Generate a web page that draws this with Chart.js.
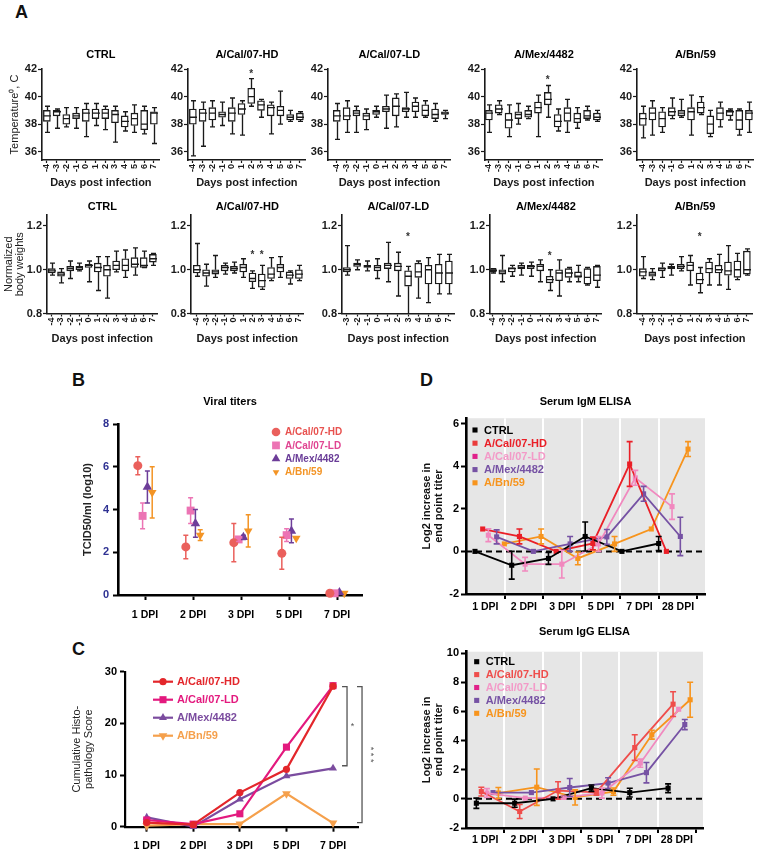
<!DOCTYPE html>
<html><head><meta charset="utf-8">
<script src="https://cdn.jsdelivr.net/npm/chart.js@4.4.1/dist/chart.umd.min.js"></script>
<style>
html,body{margin:0;padding:0;background:#fff;}
body{width:764px;height:853px;position:relative;overflow:hidden;font-family:"Liberation Sans",Arial,sans-serif;}
.plabel{position:absolute;font:bold 18px/18px "Liberation Sans",Arial,sans-serif;color:#111;}
canvas{position:absolute;}
</style></head><body>
<div class="plabel" style="left:15px;top:3px">A</div>
<div class="plabel" style="left:72px;top:371px">B</div>
<div class="plabel" style="left:72px;top:640px">C</div>
<div class="plabel" style="left:420px;top:371px">D</div>
<script>
// ================= DATA =================
// Panel A — box plots [min, Q1, median, Q3, max]
const GROUPS = ['CTRL', 'A/Cal/07-HD', 'A/Cal/07-LD', 'A/Mex/4482', 'A/Bn/59'];
const DAYS = ['-4','-3','-2','-1','0','1','2','3','4','5','6','7'];
const DAYS_FROM_M3 = ['-3','-2','-1','0','1','2','3','4','5','6','7'];

const TEMP_CTRL = [[37.4,38.2,38.6,39.0,39.3],[37.7,38.6,38.9,39.0,39.1],[37.8,38.0,38.4,38.7,39.2],[37.7,38.4,38.6,38.8,39.2],[37.1,38.2,38.8,39.1,39.5],[37.9,38.4,38.8,39.1,39.5],[37.6,38.4,38.8,39.1,39.3],[36.7,38.1,38.7,39.0,39.3],[37.5,37.8,38.2,38.6,38.9],[37.4,37.9,38.4,38.8,39.4],[37.3,37.6,38.0,39.0,39.3],[36.6,38.0,38.8,38.9,39.2]];
const TEMP_HD = [[35.7,38.0,38.5,39.1,39.7],[36.4,38.2,38.8,39.1,39.6],[37.8,38.3,38.8,39.2,39.7],[37.9,38.5,38.7,38.9,39.6],[37.3,38.2,38.8,39.2,39.9],[37.2,38.7,39.1,39.5,39.7],[39.3,39.5,40.0,40.6,41.3],[38.5,39.0,39.4,39.7,39.8],[37.3,38.6,39.2,39.4,39.6],[38.0,38.6,39.0,39.3,40.4],[38.2,38.3,38.5,38.7,39.0],[38.2,38.3,38.5,38.8,38.9]];
const TEMP_LD = [[36.9,38.2,38.6,39.0,39.5],[37.4,38.3,38.6,39.2,39.7],[37.4,38.6,38.8,39.0,39.3],[37.6,38.3,38.6,38.8,39.1],[38.5,38.7,38.9,39.0,39.3],[37.7,38.9,39.1,39.3,40.1],[37.8,38.6,39.3,39.9,40.2],[38.5,38.9,39.1,39.2,40.3],[38.5,38.9,39.3,39.6,39.9],[38.5,38.6,39.0,39.4,39.7],[38.2,38.4,38.7,39.1,39.5],[38.4,38.7,38.8,38.9,39.0]];
const TEMP_MEX = [[37.4,38.3,38.8,39.0,39.4],[38.7,38.8,39.1,39.4,39.7],[37.1,37.7,38.3,38.8,39.4],[38.0,38.4,38.7,38.9,39.5],[38.4,38.5,38.7,39.0,39.3],[37.1,38.8,39.2,39.6,40.1],[38.5,39.4,39.8,40.3,40.8],[37.5,37.8,38.2,38.7,39.1],[37.4,38.2,38.8,39.2,39.8],[37.7,38.1,38.4,38.8,39.2],[38.3,38.4,38.6,39.0,39.3],[38.2,38.3,38.5,38.8,39.0]];
const TEMP_BN = [[37.0,37.9,38.4,38.8,39.3],[37.2,38.3,38.8,39.2,39.7],[37.4,37.8,38.4,38.9,39.2],[38.4,38.6,38.9,39.2,39.9],[38.5,38.6,38.8,39.0,39.8],[37.2,38.3,38.9,39.2,40.1],[38.7,38.8,39.2,39.6,40.0],[37.1,37.3,38.0,38.6,39.0],[37.8,38.3,38.8,39.2,39.6],[38.3,38.6,38.9,39.0,39.1],[37.2,37.6,38.3,39.0,39.1],[37.4,38.3,38.8,39.0,39.6]];
const TEMP_STARS = [[], [[6, 41.65]], [], [[6, 41.15]], []];
const TEMP_TICKS = [36, 38, 40, 42];

const WEIGHT_CTRL = [[0.975,0.985,0.995,1.005,1.03],[0.94,0.97,0.98,0.99,1.005],[0.96,0.995,1.005,1.015,1.04],[0.995,1.0,1.01,1.015,1.03],[0.945,1.01,1.02,1.025,1.04],[0.905,0.99,1.01,1.03,1.06],[0.87,0.97,1.0,1.02,1.06],[0.99,1.0,1.02,1.04,1.085],[0.965,0.995,1.02,1.05,1.09],[0.975,1.01,1.025,1.055,1.10],[1.01,1.01,1.02,1.055,1.085],[1.02,1.035,1.05,1.07,1.075]];
const WEIGHT_HD = [[0.97,0.985,1.0,1.02,1.12],[0.925,0.97,0.985,1.0,1.025],[0.965,0.98,0.99,1.0,1.065],[0.98,0.995,1.01,1.02,1.03],[0.985,0.995,1.005,1.015,1.035],[0.965,0.99,1.01,1.025,1.05],[0.915,0.945,0.96,0.985,0.995],[0.91,0.92,0.95,0.98,1.02],[0.95,0.96,0.98,1.01,1.055],[0.965,0.99,1.01,1.025,1.06],[0.935,0.96,0.975,0.99,0.995],[0.95,0.96,0.98,1.0,1.02]];
const WEIGHT_LD = [[0.975,0.99,1.0,1.01,1.11],[1.0,1.015,1.025,1.03,1.045],[0.995,1.01,1.015,1.02,1.04],[0.96,0.995,1.01,1.02,1.05],[0.945,1.005,1.02,1.03,1.125],[0.88,0.995,1.015,1.03,1.08],[0.79,0.925,0.97,0.995,1.015],[0.87,0.965,0.99,1.03,1.04],[0.85,0.935,1.0,1.02,1.055],[0.89,0.935,0.985,1.025,1.07],[0.89,0.935,0.985,1.04,1.07]];
const WEIGHT_MEX = [[0.985,0.99,0.997,1.005,1.005],[0.945,0.98,0.99,1.0,1.065],[0.97,0.99,1.005,1.01,1.02],[0.975,1.005,1.01,1.02,1.03],[0.97,1.005,1.015,1.02,1.035],[0.945,0.995,1.015,1.025,1.045],[0.905,0.94,0.955,0.97,1.0],[0.88,0.95,0.985,1.0,1.045],[0.945,0.965,0.985,1.005,1.01],[0.945,0.965,0.97,0.99,1.02],[0.93,0.935,0.965,1.005,1.01],[0.92,0.95,0.975,1.015,1.02]];
const WEIGHT_BN = [[0.96,0.97,0.99,1.005,1.06],[0.955,0.97,0.98,0.99,1.005],[0.965,0.995,1.005,1.01,1.03],[0.975,1.005,1.01,1.015,1.025],[0.995,1.005,1.015,1.025,1.06],[0.93,0.995,1.02,1.035,1.065],[0.895,0.935,0.955,0.985,1.01],[0.93,0.985,1.005,1.035,1.05],[0.93,0.985,1.0,1.02,1.07],[0.91,0.975,0.995,1.035,1.11],[0.955,0.965,1.0,1.04,1.075],[0.975,0.98,1.0,1.085,1.095]];
const WEIGHT_STARS = [[], [[6, 1.065],[7, 1.065]], [[6, 1.15]], [[6, 1.06]], [[6, 1.15]]];
const WEIGHT_TICKS = [0.8, 1.0, 1.2];

// Panel B — viral titers (mean, SEM)
const DPI5 = ['1 DPI','2 DPI','3 DPI','5 DPI','7 DPI'];
const VIRAL_HD = [6.05, 2.25, 2.45, 1.95, 0.08];
const VIRAL_HD_SEM = [0.42, 0.55, 0.9, 0.75, 0];
const VIRAL_LD = [3.7, 3.95, 2.6, 2.8, 0.08];
const VIRAL_LD_SEM = [0.6, 0.6, 0.1, 0.3, 0];
const VIRAL_MEX = [5.05, 3.35, 2.7, 3.0, 0.12];
const VIRAL_MEX_SEM = [0.75, 0.65, 0.1, 0.55, 0];
const VIRAL_BN = [4.8, 2.8, 3.0, 2.65, 0.08];
const VIRAL_BN_SEM = [1.2, 0.25, 0.75, 0, 0];
const VIRAL_TICKS = [0, 2, 4, 6, 8];

// Panel C — cumulative histopathology score
const HISTO_HD = [0.8, 0.4, 6.6, 11.1, 27.2];
const HISTO_LD = [1.3, 0.5, 2.5, 15.4, 27.3];
const HISTO_MEX = [1.8, 0.0, 5.3, 9.8, 11.3];
const HISTO_BN = [0.2, 0.5, 0.5, 6.4, 0.7];
const HISTO_TICKS = [0, 10, 20, 30];
const HISTO_SIG = [{from: 27.1, to: 11.8, mark: '*'}, {from: 27.1, to: 0.8, mark: '* * *'}];

// Panel D — ELISA (mean, SEM)
const SERIES_D = ['CTRL','A/Cal/07-HD','A/Cal/07-LD','A/Mex/4482','A/Bn/59'];
const DPI6 = ['1 DPI','2 DPI','3 DPI','5 DPI','7 DPI','28 DPI'];
const IGM_CTRL = [0.0, -0.65, -0.33, 0.7, 0.0, 0.37];
const IGM_CTRL_SEM = [0, 0.65, 0.28, 0.68, 0, 0.33];
const IGM_HD = [1.05, 0.7, 0.0, 0.37, 4.1, 0.0];
const IGM_HD_SEM = [0, 0.35, 0, 0.3, 1.05, 0];
const IGM_LD = [0.76, -0.6, -0.6, 0.35, 3.45, 2.1];
const IGM_LD_SEM = [0.3, 0.32, 0.65, 0.35, 0.35, 0.6];
const IGM_MEX = [0.68, 0.0, 0.35, 0.68, 2.7, 0.7];
const IGM_MEX_SEM = [0.33, 0, 0.35, 0.35, 0.35, 0.9];
const IGM_BN = [0.35, 0.7, -0.33, 0.35, 1.05, 4.8];
const IGM_BN_SEM = [0, 0.35, 0.3, 0.35, 0, 0.35];
const IGM_TICKS = [-2, 0, 2, 4, 6];

const IGG_CTRL = [-0.3, -0.3, 0.0, 0.73, 0.43, 0.73];
const IGG_CTRL_SEM = [0.35, 0.28, 0, 0.22, 0.3, 0.3];
const IGG_HD = [0.5, -0.87, 0.57, 0.45, 3.52, 6.5];
const IGG_HD_SEM = [0.3, 0.48, 0.6, 0.2, 0.88, 0.85];
const IGG_LD = [0.4, 0.05, 0.1, 0.4, 2.45, 6.15];
const IGG_LD_SEM = [0.3, 0, 0.1, 0.35, 0.28, 0];
const IGG_MEX = [0.43, 0.43, 0.78, 1.08, 1.8, 5.1];
const IGG_MEX_SEM = [0, 0, 0.62, 0.37, 0.7, 0.35];
const IGG_BN = [0.4, 0.8, 0.1, 0.5, 4.4, 6.8];
const IGG_BN_SEM = [0.38, 1.25, 0.52, 0.25, 0.3, 1.2];
const IGG_TICKS = [-2, 0, 2, 4, 6, 8, 10];

// ================= STYLE / LAYOUT =================
const FONT = '"Liberation Sans", Arial, Helvetica, sans-serif';
Chart.defaults.font.family = FONT;
Chart.defaults.color = '#000';
const INK = '#1a1a1a';

// ---------- plugins ----------
const boxWhisker = {
  id: 'boxWhisker',
  afterDatasetsDraw(chart) {
    const ds = chart.data.datasets[0];
    if (!ds || !ds.stats) return;
    const ctx = chart.ctx, xs = chart.scales.x, ys = chart.scales.y, ca = chart.chartArea;
    ctx.save();
    ctx.beginPath(); ctx.rect(ca.left - 5, ca.top - 30, ca.right - ca.left + 10, ca.bottom - ca.top + 30); ctx.clip();
    ctx.strokeStyle = INK; ctx.lineWidth = 1.35;
    const half = ds.barThickness / 2, cap = ds.capHalf;
    ds.stats.forEach((s, i) => {
      const px = Math.round(xs.getPixelForValue(i)) + 0.5;
      const [mn, q1, md, q3, mx] = s.map(v => ys.getPixelForValue(v));
      ctx.beginPath();
      ctx.moveTo(px, q3); ctx.lineTo(px, mx);
      ctx.moveTo(px - cap, mx); ctx.lineTo(px + cap, mx);
      ctx.moveTo(px, q1); ctx.lineTo(px, mn);
      ctx.moveTo(px - cap, mn); ctx.lineTo(px + cap, mn);
      ctx.moveTo(px - half, md); ctx.lineTo(px + half, md);
      ctx.stroke();
    });
    ctx.restore();
    if (ds.stars) {
      ctx.save();
      ctx.fillStyle = '#333'; ctx.font = 'bold 10px ' + FONT;
      ctx.textAlign = 'center'; ctx.textBaseline = 'middle';
      ds.stars.forEach(([i, v]) => ctx.fillText('*', xs.getPixelForValue(i), ys.getPixelForValue(v)));
      ctx.restore();
    }
  }
};

const errorBars = {
  id: 'errorBars',
  afterDatasetsDraw(chart) {
    const ctx = chart.ctx, ys = chart.scales.y;
    chart.data.datasets.forEach((ds, di) => {
      if (!ds.yErr) return;
      const meta = chart.getDatasetMeta(di);
      ctx.save();
      ctx.strokeStyle = ds.borderColor; ctx.lineWidth = ds.errWidth || 1.5;
      const c = ds.capHalf || 3;
      meta.data.forEach((el, i) => {
        const e = ds.yErr[i];
        if (!e) return;
        const v = ds.data[i].y;
        const yh = ys.getPixelForValue(v + e), yl = ys.getPixelForValue(v - e);
        ctx.beginPath();
        ctx.moveTo(el.x, yl); ctx.lineTo(el.x, yh);
        ctx.moveTo(el.x - c, yh); ctx.lineTo(el.x + c, yh);
        ctx.moveTo(el.x - c, yl); ctx.lineTo(el.x + c, yl);
        ctx.stroke();
      });
      ctx.restore();
    });
  }
};

const miniLegend = {
  id: 'miniLegend',
  afterDraw(chart, args, opts) {
    if (!opts || !opts.display) return;
    const ctx = chart.ctx, ca = chart.chartArea;
    const items = chart.data.datasets.filter(d => d.label && !d.noLegend);
    ctx.save();
    ctx.font = 'bold ' + opts.fontSize + 'px ' + FONT;
    ctx.textBaseline = 'middle'; ctx.textAlign = 'left';
    items.forEach((d, k) => {
      const y = ca.top + opts.dy + k * opts.rowH;
      const mx = ca.left + opts.dx;
      if (opts.lineLen) {
        ctx.strokeStyle = d.borderColor; ctx.lineWidth = d.borderWidth;
        ctx.beginPath(); ctx.moveTo(mx - opts.lineLen / 2, y); ctx.lineTo(mx + opts.lineLen / 2, y); ctx.stroke();
      }
      const mc = d.legendMarker || d.pointBackgroundColor;
      ctx.fillStyle = mc; ctx.strokeStyle = mc; ctx.lineWidth = 1;
      Chart.helpers.drawPoint(ctx, {pointStyle: d.pointStyle, rotation: d.pointRotation || 0, radius: d.legendR || d.pointRadius, borderWidth: 0}, mx, y);
      ctx.fillStyle = d.legendColor || d.borderColor;
      ctx.fillText(d.label, mx + opts.textGap, y + 0.5);
    });
    ctx.restore();
  }
};

const sigBrackets = {
  id: 'sigBrackets',
  afterDatasetsDraw(chart, args, opts) {
    if (!opts || !opts.items) return;
    const ctx = chart.ctx, xs = chart.scales.x, ys = chart.scales.y;
    ctx.save();
    ctx.strokeStyle = opts.color; ctx.fillStyle = opts.color; ctx.lineWidth = opts.lineWidth;
    ctx.font = '9px ' + FONT; ctx.textAlign = 'center'; ctx.textBaseline = 'middle';
    opts.items.forEach((b, k) => {
      const x = xs.getPixelForValue(opts.at) + opts.dx[k];
      const y1 = ys.getPixelForValue(b.from), y2 = ys.getPixelForValue(b.to);
      ctx.beginPath(); ctx.moveTo(x - opts.cap, y1); ctx.lineTo(x, y1); ctx.lineTo(x, y2); ctx.lineTo(x - opts.cap, y2); ctx.stroke();
      const ym = (y1 + y2) / 2, tx = x + opts.tdx[k];
      if (b.mark.length > 1) { ctx.save(); ctx.translate(tx, ym); ctx.rotate(Math.PI / 2); ctx.fillText(b.mark, 0, 0); ctx.restore(); }
      else ctx.fillText(b.mark, tx, ym);
    });
    ctx.restore();
  }
};

const bandBg = {
  id: 'bandBg',
  beforeDraw(chart, args, opts) {
    if (!opts || !opts.color) return;
    const ca = chart.chartArea, ctx = chart.ctx;
    ctx.save(); ctx.fillStyle = opts.color;
    ctx.fillRect(ca.left, ca.top, ca.right - ca.left, ca.bottom - ca.top);
    ctx.restore();
  }
};
Chart.register(boxWhisker, errorBars, miniLegend, sigBrackets, bandBg);

// ---------- chart placement helper ----------
function makeChart(g, cfg) {
  const LH = 13.2;
  const padT = g.titleY !== undefined ? g.t - (g.titleY - LH / 2 - 1.5) : g.padT;
  const left = Math.round(g.l - g.padL), top = Math.round(g.t - padT);
  const right = Math.round(g.r + g.padR), bottom = Math.round(g.b + g.padB);
  const padL = g.l - left, pT = g.t - top, padR = right - g.r, padB = bottom - g.b;
  const cv = document.createElement('canvas');
  cv.width = right - left; cv.height = bottom - top;
  cv.style.left = left + 'px'; cv.style.top = top + 'px';
  cv.style.width = (right - left) + 'px'; cv.style.height = (bottom - top) + 'px';
  document.body.appendChild(cv);
  const o = cfg.options;
  o.responsive = false; o.animation = false; o.devicePixelRatio = 1; o.events = [];
  o.plugins = o.plugins || {};
  o.plugins.legend = {display: false};
  o.plugins.tooltip = {enabled: false};
  const lay = {left: 0, right: g.dummyRight ? 0 : padR, top: pT, bottom: 0};
  if (g.title) {
    const tTop = g.titleY - LH / 2 - top;
    lay.top = tTop;
    o.plugins.title = {display: true, text: g.title, fullSize: !!g.titleFull, align: 'center',
      font: {size: 11, weight: 'bold', lineHeight: 1.2}, color: '#000',
      padding: {top: 0, bottom: pT - tTop - LH}};
  }
  o.layout = {padding: lay};
  o.scales.x.afterFit = s => { s.height = padB; };
  o.scales.y.afterFit = s => { s.width = padL; };
  if (g.dummyRight) {
    o.scales.yR = {position: 'right', display: true, grid: {display: false}, border: {display: false},
      ticks: {display: false}, afterFit: s => { s.width = padR; }};
  }
  return new Chart(cv, cfg);
}

// ---------- Panel A ----------
function boxPanel(g, labels, stats, stars, yMin, yMax, yTicks, yFmt, yTitle, yTitleLH) {
  const n = labels.length, sp = (g.last - g.first) / (n - 1);
  const xmin = -(g.first - g.l) / sp, xmax = (n - 1) + (g.r - g.last) / sp;
  return makeChart(g, {
    type: 'bar',
    data: {datasets: [{
      data: stats.map((s, i) => ({x: i, y: [s[1], s[3]]})),
      stats, stars,
      backgroundColor: '#fff', borderColor: INK, borderWidth: 1.35, borderSkipped: false,
      barThickness: 7, capHalf: 2.5
    }]},
    options: {scales: {
      x: {type: 'linear', min: xmin, max: xmax, offset: false,
        grid: {offset: false, drawOnChartArea: false, drawTicks: true, tickLength: 3, tickColor: INK, tickWidth: 1.2},
        border: {color: INK, width: 1.6},
        afterBuildTicks: s => { s.ticks = labels.map((_, i) => ({value: i})); },
        ticks: {autoSkip: false, minRotation: 90, maxRotation: 90, padding: 1, font: {size: 9, weight: 'bold'}, color: INK, callback: v => labels[v]},
        title: {display: true, text: 'Days post infection', font: {size: 11, weight: 'bold'}, padding: 0, color: INK}},
      y: {min: yMin, max: yMax,
        grid: {drawOnChartArea: false, tickLength: 4, tickColor: INK, tickWidth: 1.2},
        border: {color: INK, width: 1.6},
        afterBuildTicks: s => { s.ticks = yTicks.map(v => ({value: v})); },
        ticks: {font: {size: 11, weight: 'bold'}, padding: 1, color: INK, callback: yFmt},
        title: yTitle ? {display: true, text: yTitle, font: {size: 11, lineHeight: yTitleLH}, padding: 0, color: INK} : {display: false}}
    }}
  });
}

const TEMP_GEO = [
  {l: 42, r: 163, first: 47, last: 157, padL: 34},
  {l: 188, r: 309, first: 193, last: 303, padL: 24},
  {l: 328, r: 454, first: 337, last: 448, padL: 24},
  {l: 485, r: 606, first: 489, last: 600, padL: 24},
  {l: 637, r: 758, first: 643, last: 753, padL: 24}
];
const WEIGHT_GEO = [
  {l: 47, r: 162, first: 52, last: 157, padL: 44.5},
  {l: 191, r: 308, first: 197, last: 303, padL: 28},
  {l: 342, r: 458, first: 347, last: 452, padL: 28},
  {l: 490, r: 606, first: 493, last: 601, padL: 28},
  {l: 637, r: 756, first: 643, last: 750, padL: 28}
];
const TEMP_DATA = [TEMP_CTRL, TEMP_HD, TEMP_LD, TEMP_MEX, TEMP_BN];
const WEIGHT_DATA = [WEIGHT_CTRL, WEIGHT_HD, WEIGHT_LD, WEIGHT_MEX, WEIGHT_BN];
const WEIGHT_DAYS = [DAYS, DAYS, DAYS_FROM_M3, DAYS, DAYS];

TEMP_GEO.forEach((p, k) => {
  boxPanel(Object.assign({t: 69, b: 160, titleY: 55, padR: 3, padB: 30, title: GROUPS[k]}, p),
    DAYS, TEMP_DATA[k], TEMP_STARS[k], 35.4, 42, TEMP_TICKS, v => String(v),
    k === 0 ? 'Temperature\u2070, C' : null, 1.2);
});
WEIGHT_GEO.forEach((p, k) => {
  boxPanel(Object.assign({t: 215, b: 313.5, titleY: 207, padR: 3, padB: 32, title: GROUPS[k]}, p),
    WEIGHT_DAYS[k], WEIGHT_DATA[k], WEIGHT_STARS[k], 0.8, 1.25, WEIGHT_TICKS, v => v.toFixed(1),
    k === 0 ? ['Normalized', 'body weights'] : null, 1.05);
});

// ---------- Panel B ----------
const B_STYLE = [
  {label: 'A/Cal/07-HD', color: '#ea605c', text: '#e8524f', style: 'circle', r: 4.5, rot: 0, lr: 4.3},
  {label: 'A/Cal/07-LD', color: '#ec74b4', text: '#e04592', style: 'rect', r: 5.6, rot: 0, lr: 5.5},
  {label: 'A/Mex/4482', color: '#6d3d99', text: '#6a3d98', style: 'triangle', r: 5.5, rot: 0, lr: 5},
  {label: 'A/Bn/59', color: '#f39425', text: '#f39425', style: 'triangle', r: 5, rot: 180, lr: 3.8}
];
const B_VALUES = [VIRAL_HD, VIRAL_LD, VIRAL_MEX, VIRAL_BN];
const B_SEMS = [VIRAL_HD_SEM, VIRAL_LD_SEM, VIRAL_MEX_SEM, VIRAL_BN_SEM];
const B_DODGE = [-0.15, -0.05, 0.05, 0.15];
makeChart({l: 118, r: 362, t: 424, b: 595, padL: 37, padR: 17, padB: 28, titleY: 402, title: 'Viral titers', titleFull: true, dummyRight: true}, {
  type: 'scatter',
  data: {datasets: B_STYLE.map((s, k) => ({
    label: s.label, data: B_VALUES[k].map((v, i) => ({x: i + B_DODGE[k], y: v})), yErr: B_SEMS[k],
    pointStyle: s.style, pointRotation: s.rot, pointRadius: s.r, pointBorderWidth: 0, legendR: s.lr,
    pointBackgroundColor: s.color, pointBorderColor: s.color, borderColor: s.color, backgroundColor: s.color,
    legendColor: s.text, capHalf: 2.5, errWidth: 1.5, clip: false
  }))},
  options: {
    scales: {
      x: {type: 'linear', min: -0.5625, max: 4.52,
        grid: {drawOnChartArea: false, tickLength: 5, tickWidth: 2, tickColor: '#000'},
        border: {color: '#000', width: 2.6},
        afterBuildTicks: s => { s.ticks = DPI5.map((_, i) => ({value: i})); },
        ticks: {autoSkip: false, maxRotation: 0, padding: 8.5, font: {size: 10.5, weight: 'bold'}, callback: v => DPI5[v]}},
      y: {min: 0, max: 8,
        grid: {drawOnChartArea: false, tickLength: 5, tickWidth: 2, tickColor: '#000'},
        border: {color: '#000', width: 2.6},
        afterBuildTicks: s => { s.ticks = VIRAL_TICKS.map(v => ({value: v})); },
        ticks: {color: '#2e3192', font: {size: 11, weight: 'bold'}, padding: 4},
        title: {display: true, text: 'TCID50/ml (log10)', font: {size: 11, weight: 'bold'}, padding: 0, color: '#222'}}
    },
    plugins: {miniLegend: {display: true, dx: 158, dy: 8, rowH: 13.4, fontSize: 10, textGap: 9}}
  }
});

// ---------- Panel C ----------
const C_STYLE = [
  {label: 'A/Cal/07-HD', color: '#e3262b', style: 'circle', r: 3.6, rot: 0},
  {label: 'A/Cal/07-LD', color: '#e3197e', style: 'rect', r: 5, rot: 0},
  {label: 'A/Mex/4482', color: '#7b4c9f', style: 'triangle', r: 4.6, rot: 0},
  {label: 'A/Bn/59', color: '#f5a04c', style: 'triangle', r: 5, rot: 180}
];
const C_VALUES = [HISTO_HD, HISTO_LD, HISTO_MEX, HISTO_BN];
makeChart({l: 125, r: 358, t: 671.7, b: 826.7, padL: 54, padT: 12, padR: 20, padB: 26.3}, {
  type: 'scatter',
  data: {datasets: C_STYLE.map((s, k) => ({
    label: s.label, data: C_VALUES[k].map((v, i) => ({x: i, y: v})), showLine: true,
    pointStyle: s.style, pointRotation: s.rot, pointRadius: s.r, pointBorderWidth: 0,
    pointBackgroundColor: s.color, pointBorderColor: s.color, borderColor: s.color, backgroundColor: s.color,
    borderWidth: 2.2, legendColor: s.color, clip: false
  }))},
  options: {
    scales: {
      x: {type: 'linear', min: -0.466, max: 4.536,
        grid: {drawOnChartArea: false, tickLength: 5, tickWidth: 2, tickColor: '#000'},
        border: {color: '#000', width: 2.2},
        afterBuildTicks: s => { s.ticks = DPI5.map((_, i) => ({value: i})); },
        ticks: {autoSkip: false, maxRotation: 0, padding: 8.5, font: {size: 10.5, weight: 'bold'}, callback: v => DPI5[v]}},
      y: {min: 0, max: 30,
        grid: {drawOnChartArea: false, tickLength: 5, tickWidth: 2, tickColor: '#000'},
        border: {color: '#000', width: 2.2},
        afterBuildTicks: s => { s.ticks = HISTO_TICKS.map(v => ({value: v})); },
        ticks: {font: {size: 11, weight: 'bold'}, padding: 3},
        title: {display: true, text: ['Cumulative Histo-', 'pathology Score'], font: {size: 11, lineHeight: 1.09}, padding: 0, color: '#222'}}
    },
    plugins: {
      miniLegend: {display: true, dx: 38, dy: 10, rowH: 18, fontSize: 11, textGap: 14, lineLen: 20},
      sigBrackets: {items: HISTO_SIG, at: 4, dx: [14, 29], tdx: [5.5, 8.5], cap: 5, color: '#555', lineWidth: 1.3}
    }
  }
});

// ---------- Panel D ----------
function elisaPanel(g, values, sems, colors, step, offs, ymax, yTicks, xmax) {
  const band = (g.r - g.l) / xmax;
  const datasets = SERIES_D.map((name, si) => ({
    label: name, data: values[si].map((v, gi) => ({x: gi * step + offs[si], y: v})), yErr: sems[si],
    showLine: true, borderColor: colors[si].line, backgroundColor: colors[si].line,
    pointBackgroundColor: colors[si].line, pointBorderColor: colors[si].line,
    pointStyle: 'rect', pointRadius: 3.6, pointBorderWidth: 0, borderWidth: 1.8,
    legendColor: colors[si].text, legendMarker: colors[si].marker, capHalf: 3, errWidth: 1.6, clip: false
  }));
  datasets.push({data: [{x: 0, y: 0}, {x: xmax, y: 0}], showLine: true, borderColor: '#000', borderWidth: 2,
    borderDash: [6, 4], pointRadius: 0, noLegend: true});
  return makeChart(g, {
    type: 'scatter',
    data: {datasets},
    options: {
      scales: {
        x: {type: 'linear', min: 0, max: xmax,
          grid: {drawOnChartArea: true, lineWidth: 2, tickLength: 5, tickWidth: 2, tickColor: '#000',
            color: c => (c.tick && c.tick.value < DPI6.length) ? '#ffffff' : 'rgba(0,0,0,0)'},
          border: {color: '#000', width: 2.6},
          afterBuildTicks: s => { s.ticks = DPI6.map((_, i) => ({value: i + 1})); },
          ticks: {autoSkip: false, maxRotation: 0, padding: g.tickPad, labelOffset: -band / 2,
            font: {size: 10.5, weight: 'bold'}, callback: v => DPI6[v - 1]}},
        y: {min: -2, max: ymax,
          grid: {drawOnChartArea: false, tickLength: 5, tickWidth: 2, tickColor: '#000'},
          border: {color: '#000', width: 2.6},
          afterBuildTicks: s => { s.ticks = yTicks.map(v => ({value: v})); },
          ticks: {font: {size: 11, weight: 'bold'}, padding: 2},
          title: {display: true, text: ['Log2 increase in', 'end point titer'], font: {size: 11, weight: 'bold', lineHeight: 1.1}, padding: 0, color: '#111'}}
      },
      plugins: {
        bandBg: {color: '#e6e6e6'},
        miniLegend: {display: true, dx: g.legDx, dy: g.legDy, rowH: g.legRow, fontSize: 11, textGap: 9}
      }
    }
  });
}
const IGM_COLORS = [
  {line: '#000000', text: '#000000', marker: '#000000'},
  {line: '#ea1f27', text: '#ea1f27', marker: '#ea3b3b'},
  {line: '#f189bf', text: '#f39ac8', marker: '#e0218a'},
  {line: '#7652a4', text: '#7652a4', marker: '#7652a4'},
  {line: '#f7941d', text: '#f7941d', marker: '#f7941d'}
];
const IGG_COLORS = [
  {line: '#000000', text: '#000000', marker: '#000000'},
  {line: '#ef4d4b', text: '#ef4d4b', marker: '#ef4d4b'},
  {line: '#f189bf', text: '#f39ac8', marker: '#e0218a'},
  {line: '#7652a4', text: '#7652a4', marker: '#7652a4'},
  {line: '#f7941d', text: '#f7941d', marker: '#f7941d'}
];
elisaPanel({l: 466, r: 705, t: 418.2, b: 594, padL: 45, padR: 14, padB: 20, titleY: 402, title: 'Serum IgM ELISA',
    tickPad: 1.4, legDx: 9, legDy: 11.8, legRow: 13.2},
  [IGM_CTRL, IGM_HD, IGM_LD, IGM_MEX, IGM_BN], [IGM_CTRL_SEM, IGM_HD_SEM, IGM_LD_SEM, IGM_MEX_SEM, IGM_BN_SEM],
  IGM_COLORS, 0.953, [0.233, 0.433, 0.58, 0.795, 0.995], 6.25, IGM_TICKS, 6.2);
elisaPanel({l: 466, r: 703, t: 651.7, b: 828, padL: 45, padR: 14, padB: 25, titleY: 632, title: 'Serum IgG ELISA',
    tickPad: 0.8, legDx: 10.7, legDy: 10, legRow: 12.9},
  [IGG_CTRL, IGG_HD, IGG_LD, IGG_MEX, IGG_BN], [IGG_CTRL_SEM, IGG_HD_SEM, IGG_LD_SEM, IGG_MEX_SEM, IGG_BN_SEM],
  IGG_COLORS, 1.0, [0.27, 0.40, 0.545, 0.705, 0.845], 10.1, IGG_TICKS, 6.18);
</script>
</body></html>
